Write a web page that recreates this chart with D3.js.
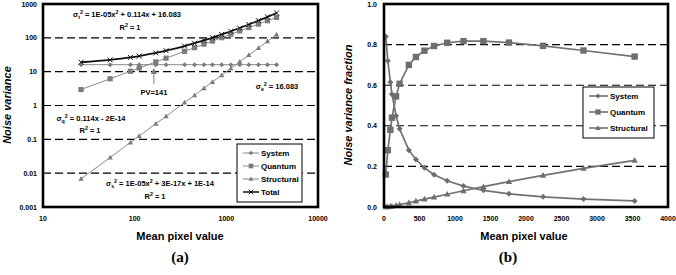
<!DOCTYPE html>
<html><head><meta charset="utf-8">
<script src="https://cdn.jsdelivr.net/npm/d3@7"></script>
<style>
html,body{margin:0;padding:0;background:#fff;}
svg text{font-family:"Liberation Sans",Arial,sans-serif;font-weight:bold;}
</style></head>
<body><svg id="c" width="676" height="275"></svg>
<script>
// ---- data ----
const meanPV = [26, 54, 90, 112, 170, 220, 350, 450, 570, 705, 890, 1120, 1400, 1760, 2240, 2810, 3530];
const systemVar = [16.08,16.08,16.08,16.08,16.08,16.08,16.08,16.08,16.08,16.08,16.08,16.08,16.08,16.08,16.08,16.08,16.08];
const quantumVar = [2.96, 6.16, 10.3, 12.8, 19.4, 25.1, 39.9, 51.3, 65.0, 80.4, 101, 128, 160, 201, 255, 320, 402];
const structVar = [0.0068, 0.029, 0.081, 0.125, 0.29, 0.48, 1.22, 2.0, 3.25, 4.97, 7.9, 12.5, 19.6, 31, 50, 79, 125];
const totalVar = [19.0, 22.3, 26.4, 29.0, 35.8, 41.7, 57.2, 69.4, 84.3, 101, 126, 156, 195, 248, 322, 415, 543];
const sysFrac = [0.84, 0.72, 0.615, 0.556, 0.45, 0.385, 0.28, 0.234, 0.193, 0.159, 0.129, 0.103, 0.082, 0.065, 0.05, 0.039, 0.03];
const quantFrac = [0.16, 0.28, 0.38, 0.44, 0.545, 0.607, 0.70, 0.739, 0.77, 0.793, 0.809, 0.817, 0.817, 0.81, 0.794, 0.771, 0.741];
const structFrac = [0.0004, 0.0013, 0.003, 0.004, 0.008, 0.012, 0.021, 0.029, 0.039, 0.049, 0.063, 0.08, 0.10, 0.125, 0.156, 0.19, 0.23];
const leftYTicks = [0.001, 0.01, 0.1, 1, 10, 100, 1000];
const leftYLabels = ["0.001", "0.01", "0.1", "1", "10", "100", "1000"];
const leftXTicks = [10, 100, 1000, 10000];
const rightXTicks = [0, 500, 1000, 1500, 2000, 2500, 3000, 3500, 4000];
const rightYTicks = [0, 0.2, 0.4, 0.6, 0.8, 1.0];
const leftGrid = [0.01, 0.1, 1, 10, 100];
const rightGrid = [0.2, 0.4, 0.6, 0.8];
const seriesNames = ["System", "Quantum", "Structural", "Total"];
const pvValue = 162; // arrow position as drawn

const svg = d3.select("#c");
const GRAY = "#7c7c7c";

function marker(g, type, x, y, s, color) {
  if (type === "System") {
    g.append("path").attr("d", `M${x},${y-s}L${x+s},${y}L${x},${y+s}L${x-s},${y}Z`).attr("fill", color);
  } else if (type === "Quantum") {
    g.append("rect").attr("x", x-s).attr("y", y-s).attr("width", 2*s).attr("height", 2*s).attr("fill", color);
  } else if (type === "Structural") {
    g.append("path").attr("d", `M${x},${y-s*1.1}L${x+s*1.05},${y+s*0.8}L${x-s*1.05},${y+s*0.8}Z`).attr("fill", color);
  } else {
    g.append("path").attr("d", `M${x-s},${y-s}L${x+s},${y+s}M${x-s},${y+s}L${x+s},${y-s}`).attr("stroke", "#111").attr("stroke-width", 1);
  }
}

function rich(g, x, y, parts, size, anchor) {
  const t = g.append("text").attr("x", x).attr("y", y).attr("font-size", size).attr("text-anchor", anchor || "start").attr("fill", "#000");
  let cur = 0;
  parts.forEach(p => {
    let target = p.sub ? 2 : (p.sup ? -3.5 : 0);
    const ts = t.append("tspan").text(p.t).attr("dy", target - cur);
    if (p.sub || p.sup) ts.attr("font-size", size * 0.7);
    cur = target;
  });
  return t;
}

// ================= LEFT CHART =================
const L = {l: 43, r: 318, t: 4, b: 207};
const xL = d3.scaleLog().domain([10, 10000]).range([L.l, L.r]);
const yL = d3.scaleLog().domain([0.001, 1000]).range([L.b, L.t]);
const gL = svg.append("g");

gL.selectAll(".grid").data(leftGrid).enter().append("line")
  .attr("x1", L.l).attr("x2", L.r).attr("y1", d => yL(d)).attr("y2", d => yL(d))
  .attr("stroke", "#000").attr("stroke-width", 1.1).attr("stroke-dasharray", "8,4");

// y tick labels
gL.selectAll(".ylab").data(leftYTicks).enter().append("text")
  .attr("x", L.l - 6).attr("y", d => yL(d) + 2.5).attr("text-anchor", "end").attr("font-size", 7)
  .text((d, i) => leftYLabels[i]);
gL.selectAll(".xlab").data(leftXTicks).enter().append("text")
  .attr("x", d => xL(d)).attr("y", 221).attr("text-anchor", "middle").attr("font-size", 7).text(d => d);

const lineL = (xs, ys) => d3.line().x((d, i) => xL(xs[i])).y((d, i) => yL(ys[i]))(ys);
const seriesL = [
  {name: "System", v: systemVar},
  {name: "Quantum", v: quantumVar},
  {name: "Structural", v: structVar}
];
seriesL.forEach(s => {
  gL.append("path").attr("d", lineL(meanPV, s.v)).attr("fill", "none").attr("stroke", "#8a8a8a").attr("stroke-width", 1);
});
gL.append("path").attr("d", d3.line().curve(d3.curveMonotoneX).x((d, i) => xL(meanPV[i])).y(d => yL(d))(totalVar))
  .attr("fill", "none").attr("stroke", "#111").attr("stroke-width", 1.8);
seriesL.forEach(s => {
  s.v.forEach((v, i) => marker(gL, s.name, xL(meanPV[i]), yL(v), s.name === "Quantum" ? 2.6 : 2.5, GRAY));
});
totalVar.forEach((v, i) => marker(gL, "Total", xL(meanPV[i]), yL(v), 2.5));

// border
gL.append("rect").attr("x", L.l).attr("y", L.t).attr("width", L.r - L.l).attr("height", L.b - L.t)
  .attr("fill", "none").attr("stroke", "#000").attr("stroke-width", 2.6);

// annotations
rich(gL, 127, 17, [{t: "σ"}, {t: "t", sub: true}, {t: "2", sup: true}, {t: " = 1E-05x"}, {t: "2", sup: true}, {t: " + 0.114x + 16.083"}], 7.5, "middle");
rich(gL, 130, 30, [{t: "R"}, {t: "2", sup: true}, {t: " = 1"}], 7.5, "middle");
rich(gL, 277, 89, [{t: "σ"}, {t: "e", sub: true}, {t: "2", sup: true}, {t: " = 16.083"}], 7.5, "middle");
rich(gL, 91, 121, [{t: "σ"}, {t: "q", sub: true}, {t: "2", sup: true}, {t: " = 0.114x - 2E-14"}], 7.5, "middle");
rich(gL, 90, 133, [{t: "R"}, {t: "2", sup: true}, {t: " = 1"}], 7.5, "middle");
rich(gL, 160, 186, [{t: "σ"}, {t: "s", sub: true}, {t: "2", sup: true}, {t: " = 1E-05x"}, {t: "2", sup: true}, {t: " + 3E-17x + 1E-14"}], 7.5, "middle");
rich(gL, 155, 199, [{t: "R"}, {t: "2", sup: true}, {t: " = 1"}], 7.5, "middle");
// PV arrow
const px = xL(pvValue);
gL.append("line").attr("x1", px).attr("x2", px).attr("y1", 84).attr("y2", 73).attr("stroke", GRAY).attr("stroke-width", 1);
gL.append("path").attr("d", `M${px},68L${px+3},74L${px-3},74Z`).attr("fill", GRAY);
gL.append("text").attr("x", px).attr("y", 94.5).attr("text-anchor", "middle").attr("font-size", 7.5).text("PV=141");

// legend
gL.append("rect").attr("x", 237).attr("y", 144).attr("width", 65).attr("height", 58).attr("fill", "#fff").attr("stroke", "#000").attr("stroke-width", 1);
seriesNames.forEach((n, i) => {
  const yy = 153 + i * 13;
  gL.append("line").attr("x1", 243).attr("x2", 259).attr("y1", yy).attr("y2", yy)
    .attr("stroke", n === "Total" ? "#111" : "#8a8a8a").attr("stroke-width", n === "Total" ? 1.5 : 1);
  marker(gL, n, 251, yy, 2.3, GRAY);
  gL.append("text").attr("x", 261).attr("y", yy + 3).attr("font-size", 8).text(n);
});

// axis titles
gL.append("text").attr("x", 180).attr("y", 240).attr("text-anchor", "middle").attr("font-size", 11).text("Mean pixel value");
gL.append("text").attr("transform", "translate(11,105) rotate(-90)").attr("text-anchor", "middle")
  .attr("font-size", 11).attr("font-style", "italic").text("Noise variance");
gL.append("text").attr("x", 180).attr("y", 262).attr("text-anchor", "middle").attr("font-size", 15)
  .style("font-family", "'Liberation Serif','Times New Roman',serif").text("(a)");

// ================= RIGHT CHART =================
const R = {l: 384, r: 668, t: 4, b: 207};
const xR = d3.scaleLinear().domain([0, 4000]).range([R.l, R.r]);
const yR = d3.scaleLinear().domain([0, 1]).range([R.b, R.t]);
const gR = svg.append("g");

gR.selectAll(".grid").data(rightGrid).enter().append("line")
  .attr("x1", R.l).attr("x2", R.r).attr("y1", d => yR(d)).attr("y2", d => yR(d))
  .attr("stroke", "#000").attr("stroke-width", 1.1).attr("stroke-dasharray", "8,4");
gR.selectAll(".ylab").data(rightYTicks).enter().append("text")
  .attr("x", R.l - 7).attr("y", d => yR(d) + 2.5).attr("text-anchor", "end").attr("font-size", 7)
  .text(d => d3.format(".1f")(d));
gR.selectAll(".xlab").data(rightXTicks).enter().append("text")
  .attr("x", d => xR(d)).attr("y", 221).attr("text-anchor", "middle").attr("font-size", 7).text(d => d);

const seriesR = [
  {name: "System", v: sysFrac},
  {name: "Quantum", v: quantFrac},
  {name: "Structural", v: structFrac}
];
seriesR.forEach(s => {
  gR.append("path").attr("d", d3.line().x((d, i) => xR(meanPV[i])).y(d => yR(d))(s.v))
    .attr("fill", "none").attr("stroke", "#727272").attr("stroke-width", 1.7);
});
seriesR.forEach(s => {
  s.v.forEach((v, i) => marker(gR, s.name, xR(meanPV[i]), yR(v), s.name === "Quantum" ? 3.2 : 3, "#6e6e6e"));
});
gR.append("rect").attr("x", R.l).attr("y", R.t).attr("width", R.r - R.l).attr("height", R.b - R.t)
  .attr("fill", "none").attr("stroke", "#000").attr("stroke-width", 2.6);

// legend
gR.append("rect").attr("x", 583).attr("y", 87).attr("width", 71).attr("height", 51).attr("fill", "#fff").attr("stroke", "#000").attr("stroke-width", 1);
seriesNames.slice(0, 3).forEach((n, i) => {
  const yy = 96 + i * 16;
  gR.append("line").attr("x1", 589).attr("x2", 608).attr("y1", yy).attr("y2", yy).attr("stroke", "#727272").attr("stroke-width", 1.6);
  marker(gR, n, 598, yy, 2.6, "#6e6e6e");
  gR.append("text").attr("x", 610).attr("y", yy + 3).attr("font-size", 8).text(n);
});

gR.append("text").attr("x", 524).attr("y", 240).attr("text-anchor", "middle").attr("font-size", 11).text("Mean pixel value");
gR.append("text").attr("transform", "translate(352,105) rotate(-90)").attr("text-anchor", "middle")
  .attr("font-size", 11).attr("font-style", "italic").text("Noise variance fraction");
gR.append("text").attr("x", 508).attr("y", 262).attr("text-anchor", "middle").attr("font-size", 15)
  .style("font-family", "'Liberation Serif','Times New Roman',serif").text("(b)");
</script></body></html>
